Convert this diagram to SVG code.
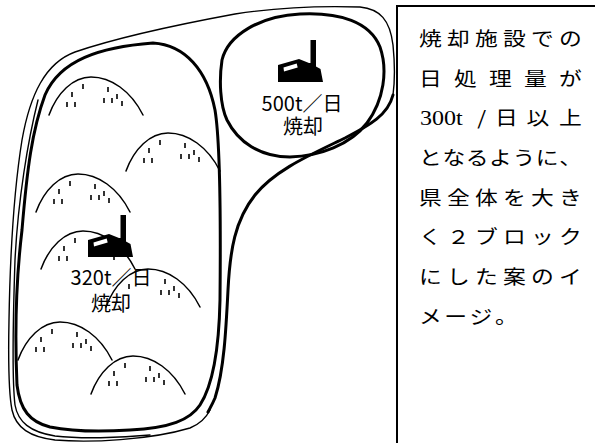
<svg xmlns="http://www.w3.org/2000/svg" xmlns:xlink="http://www.w3.org/1999/xlink" width="595" height="443" viewBox="0 0 595 443">
  <style>
    .thin { fill: none; stroke: #000; stroke-width: 1.4; stroke-linecap: round; stroke-linejoin: round; }
    .thick { fill: none; stroke: #000; stroke-width: 3; stroke-linecap: round; stroke-linejoin: round; }
    .ridge { fill: none; stroke: #000; stroke-width: 1.5; stroke-linecap: round; }
    .tree { fill: none; stroke: #000; stroke-width: 1.6; }
    .label { font-family: "Noto Sans CJK JP", "Noto Sans", sans-serif; font-size: 20px; fill: #000; text-anchor: middle; }
    .note { font-family: "Noto Sans CJK JP", "Noto Sans", sans-serif; font-size: 19px; fill: #000; text-anchor: middle; }
    .num { font-family: "Liberation Serif", "Noto Sans CJK JP", serif; font-size: 20px; text-anchor: start; }
  </style>
  <defs>
    <!-- hill pieces, origin at the summit -->
    <path id="ridge" class="ridge" d="M-42,38 C-34,16 -18,0 0,0 C20,0 40,14 52,38"/>
    <path id="trees" class="tree" d="M-8,7v5 M-19,15v5 M-24,25v5 M-16,25v5 M17,10v5 M26,17v5 M13,21v5 M21,21v5 M31,24v5"/>
    <g id="hill">
      <use xlink:href="#ridge" href="#ridge"/>
      <use xlink:href="#trees" href="#trees"/>
    </g>
    <!-- incineration plant pictogram, origin at top-left -->
    <g id="plant">
      <path fill="#000" d="M0,42 L0,25 L21,19 L31,23 L32.5,23 L32.5,0 L38,0 L38,26.5 L42.5,29 L45,42 Z"/>
      <path fill="#fff" d="M5.5,27.5 L18.7,23.5 L19.7,27.5 L6,31.5 Z"/>
    </g>
  </defs>

  <rect width="595" height="443" fill="#fff"/>

  <!-- prefecture outline -->
  <g id="prefecture">
    <path class="thin" d="M393,95 C395,80 395,65 393,45 C390,20 380,9 360,7 C330,6 280,7 235,14 C170,26 110,40 75,52 C45,63 30,95 22,140 C14,190 10,260 9,320 C8,370 9,395 12,410 C16,428 30,437 55,440 C90,443 150,440 190,428 C200,424 206,418 210,410"/>
    <path class="thin" d="M38,100 C28,140 18,200 15,260 C13,320 12,380 15,405 C18,422 30,432 55,436 C80,439 120,438 150,435"/>
    <path class="thick" d="M393,95 C388,115 370,125 345,138 C310,155 275,170 255,195 C235,220 230,250 228,290 C226,330 224,370 215,398 C212,405 210,408 208,412"/>
  </g>

  <!-- western block -->
  <g id="block-west">
    <path class="thick" d="M153,43 C185,45 207,70 215,110 C220,140 221,200 220,300 C219,350 213,385 200,405 C190,420 170,428 130,430 C100,432 70,431 50,427 C30,422 20,410 17,385 C15,340 16,280 22,230 C27,170 32,130 45,95 C60,60 100,47 153,43 Z"/>
    <use xlink:href="#hill" href="#hill" x="91" y="77"/>
    <use xlink:href="#hill" href="#hill" x="168" y="133"/>
    <use xlink:href="#hill" href="#hill" x="78" y="174"/>
    <use xlink:href="#hill" href="#hill" x="83" y="231"/>
    <g transform="translate(148,269)">
      <use xlink:href="#ridge" href="#ridge"/>
      <path class="tree" d="M-19,15v5 M17,10v5 M26,17v5 M13,21v5 M21,21v5 M31,24v5"/>
    </g>
    <use xlink:href="#hill" href="#hill" x="60" y="322"/>
    <use xlink:href="#hill" href="#hill" x="133" y="356"/>
    <use xlink:href="#plant" href="#plant" x="88" y="215"/>
    <text class="label"><tspan x="111" y="285">320t／日</tspan><tspan x="111" y="311">焼却</tspan></text>
  </g>

  <!-- eastern block -->
  <g id="block-east">
    <path class="thick" d="M222,60 C228,35 260,16 300,14 C340,12 370,22 380,47 C388,70 384,100 367,123 C350,145 320,156 290,157 C260,157 238,142 227,120 C220,105 219,80 222,60 Z"/>
    <use xlink:href="#plant" href="#plant" x="278" y="40"/>
    <text class="label"><tspan x="302" y="111">500t／日</tspan><tspan x="303" y="134">焼却</tspan></text>
  </g>

  <!-- explanatory note panel; glyphs widened 1.2x, x values in the widened frame -->
  <g id="note">
    <rect x="397" y="6" width="210" height="450" fill="#fff" stroke="#000" stroke-width="2"/>
    <g transform="scale(1.2,1)">
      <text class="note" x="358.7 382 405.3 428.7 452 475.3" y="46">焼却施設での</text>
      <text class="note" x="358.7 387.8 417 446.2 475.3" y="86">日処理量が</text>
      <text class="note" y="125.5"><tspan class="num" x="350">300t</tspan><tspan x="401.4">/</tspan><tspan x="422 448.3 475.3">日以上</tspan></text>
      <text class="note" x="358.7 378.2 397.6 417.1 436.6 456 475.5" y="165">となるように、</text>
      <text class="note" x="358.7 382 405.3 428.7 452 475.3" y="205">県全体を大き</text>
      <text class="note" x="358.7 382 405.3 428.7 452 475.3" y="244.5">く２ブロック</text>
      <text class="note" x="358.7 382 405.3 428.7 452 475.3" y="284">にした案のイ</text>
      <text class="note" x="358.7 379.8 400.8 422" y="324">メージ。</text>
    </g>
  </g>
</svg>
